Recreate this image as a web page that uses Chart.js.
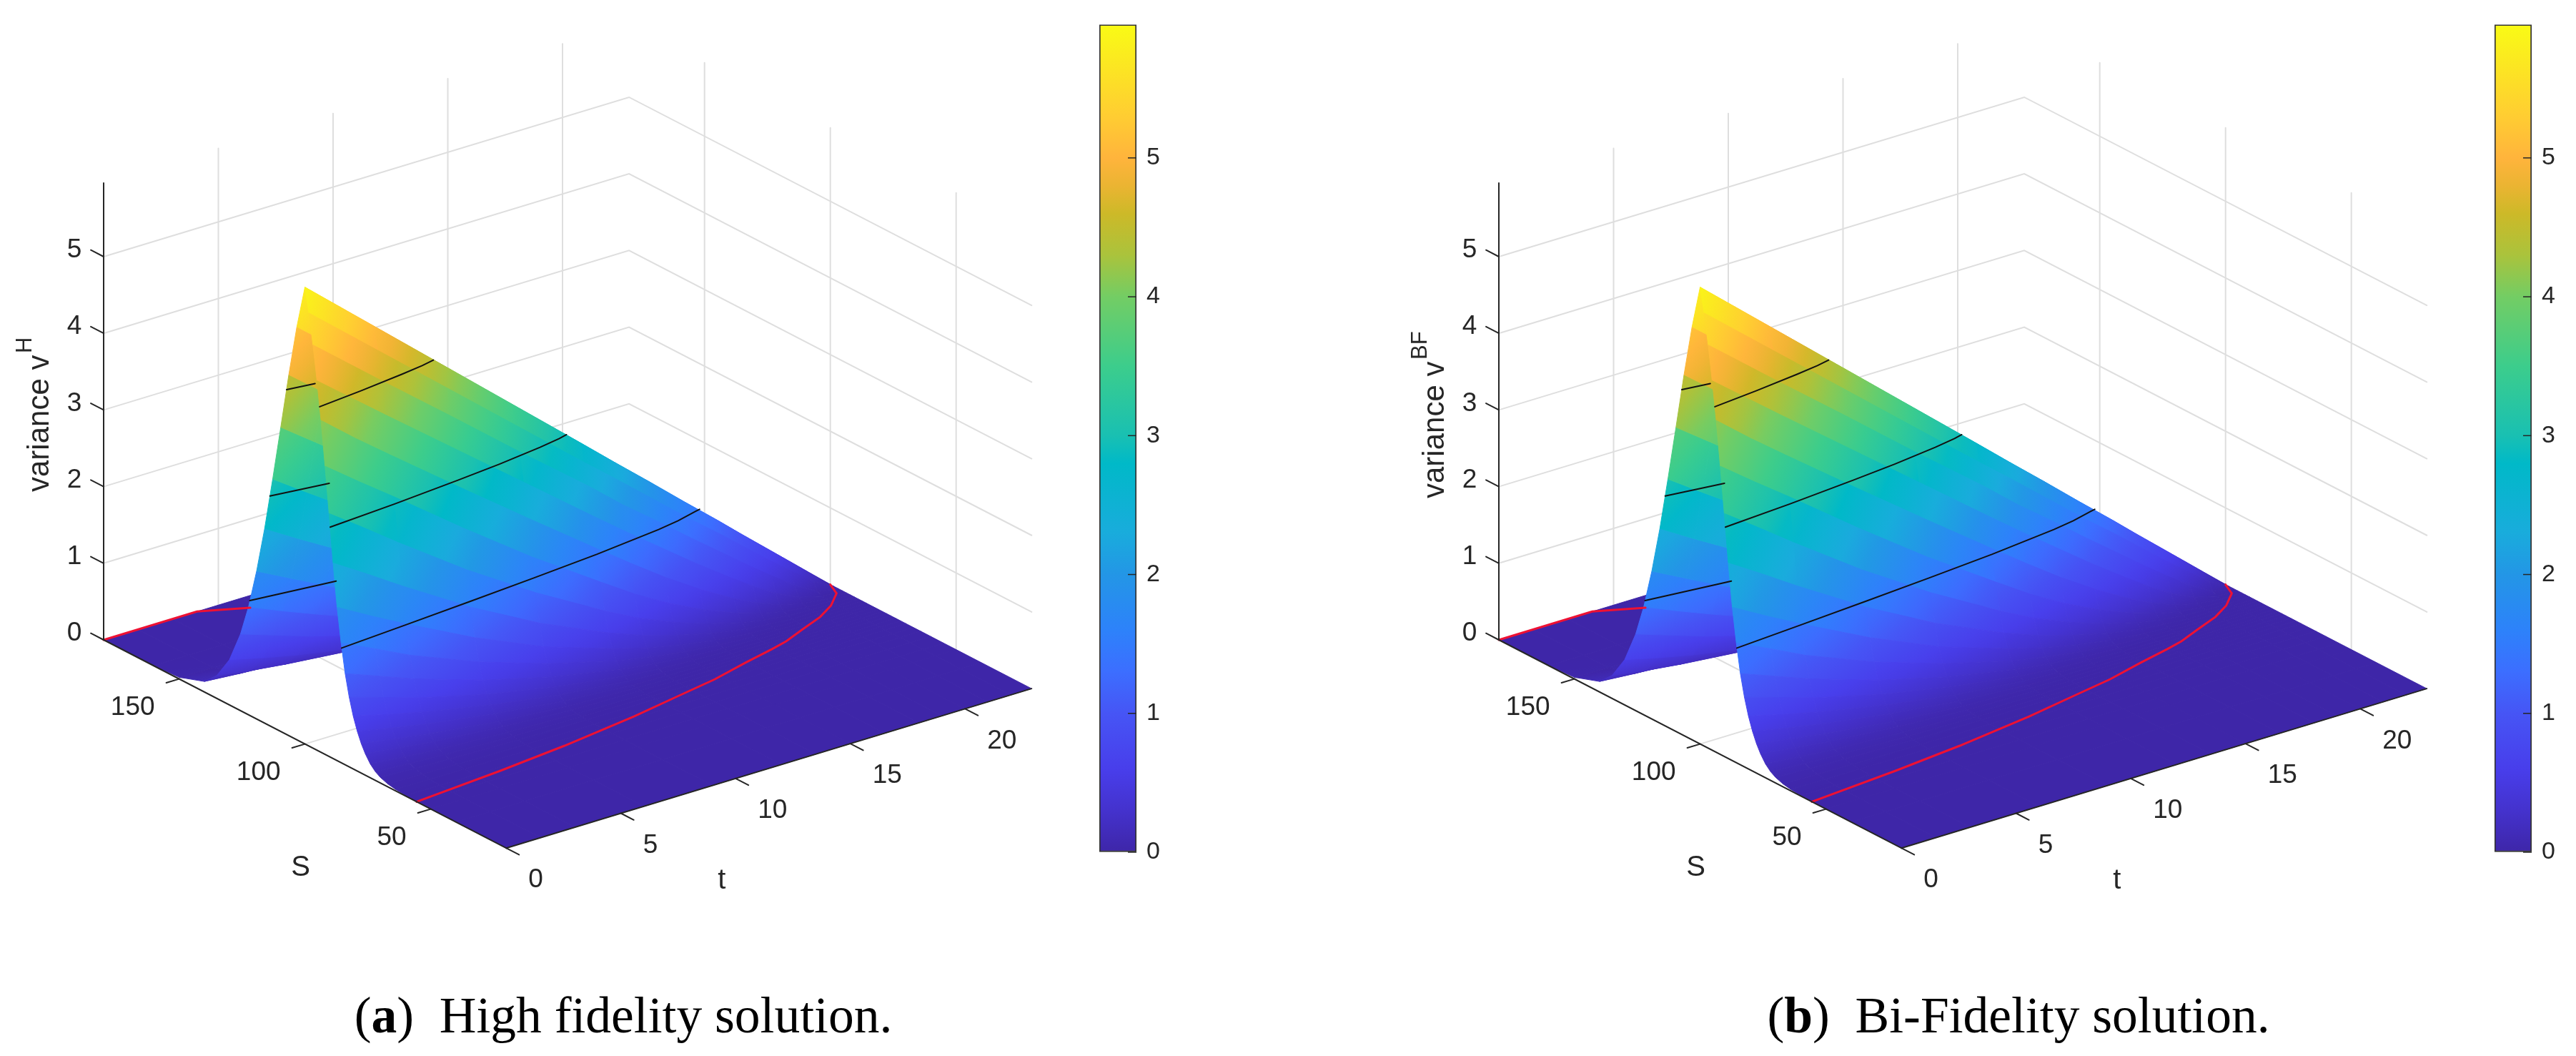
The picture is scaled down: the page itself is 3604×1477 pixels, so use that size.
<!DOCTYPE html>
<html>
<head>
<meta charset="utf-8">
<title>Variance surfaces</title>
<script src="https://cdn.jsdelivr.net/npm/chart.js@4/dist/chart.umd.min.js"></script>
<style>
    html, body { margin: 0; padding: 0; background: #fff; overflow: hidden; }
    #page { position: relative; width: 3604px; height: 1477px; }
    canvas { position: absolute; top: 0; }
    .caption { position: absolute; top: 1378px; font: 71.5px/84px "Liberation Serif", serif; color: #000; white-space: nowrap; transform: translateX(-50%); }
</style>
</head>
<body>
<div id="page">
    <canvas id="surfaceA" width="1530" height="1340" style="left:0"></canvas>
    <canvas id="barA" width="120" height="1240" style="left:1530px"></canvas>
    <canvas id="surfaceB" width="1530" height="1340" style="left:1952px"></canvas>
    <canvas id="barB" width="120" height="1240" style="left:3482px"></canvas>
    <div class="caption" style="left:872px">(<b>a</b>)&nbsp; High fidelity solution.</div>
    <div class="caption" style="left:2824px">(<b>b</b>)&nbsp; Bi-Fidelity solution.</div>
</div>
<script>
    // Values. Both panels look the same by eye so they share one table.
    const sValues = [20, 40, 50, 55, 60, 64, 67, 70, 72, 74, 76, 77.6, 79.2, 80.8, 82.4, 84, 85.6, 87.2, 88.8, 90.4, 92, 93.6, 95.2, 96.8, 98.4, 100, 103.2, 106.4, 109.6, 112.8, 116, 119.2, 122.4, 125.6, 130, 135, 140, 150, 160, 180];
    const tValues = [0, 1.5, 3, 6, 9, 12, 13.5, 15, 16.5, 18, 19, 20, 21, 22, 22.9];
    const varianceRows = [
        [0, 0, 0, .003, .008, .02, .038, .073, .115, .18, .28, .385, .52, .69, .91, 1.19, 1.56, 2.00, 2.55, 3.17, 3.76, 4.33, 4.82, 5.26, 5.65, 5.96, 5.39, 4.71, 3.97, 3.24, 2.54, 1.93, 1.41, 1.00, .59, .30, .137, .022, .003, 0],
        [0, 0, 0, .002, .006, .014, .028, .055, .086, .138, .22, .31, .426, .575, .77, 1.02, 1.35, 1.75, 2.27, 2.85, 3.42, 3.96, 4.46, 4.89, 5.27, 5.57, 5.02, 4.35, 3.64, 2.93, 2.27, 1.70, 1.22, .85, .48, .23, .102, .015, .002, 0],
        [0, 0, 0, .001, .004, .01, .02, .039, .064, .10, .166, .245, .34, .47, .63, .85, 1.13, 1.51, 1.98, 2.52, 3.09, 3.61, 4.10, 4.52, 4.89, 5.18, 4.65, 4.00, 3.31, 2.63, 2.01, 1.47, 1.04, .70, .38, .175, .073, .009, .001, 0],
        [0, 0, 0, 0, .001, .004, .009, .019, .031, .051, .086, .13, .20, .29, .40, .56, .77, 1.06, 1.43, 1.89, 2.41, 2.92, 3.39, 3.79, 4.13, 4.40, 3.90, 3.30, 2.66, 2.05, 1.50, 1.05, .70, .445, .22, .09, .032, .003, 0, 0],
        [0, 0, 0, 0, 0, .001, .003, .007, .012, .021, .037, .059, .093, .148, .225, .33, .475, .67, .95, 1.32, 1.76, 2.24, 2.68, 3.05, 3.37, 3.62, 3.16, 2.61, 2.03, 1.49, 1.03, .68, .42, .243, .106, .036, .011, .001, 0, 0],
        [0, 0, 0, 0, 0, 0, .001, .002, .003, .006, .012, .020, .034, .057, .096, .158, .24, .37, .55, .81, 1.16, 1.57, 1.97, 2.33, 2.61, 2.84, 2.43, 1.93, 1.42, .98, .62, .37, .20, .103, .036, .009, .002, 0, 0, 0],
        [0, 0, 0, 0, 0, 0, 0, 0, .001, .003, .006, .01, .018, .03, .053, .093, .155, .245, .38, .58, .865, 1.24, 1.62, 1.95, 2.24, 2.447, 2.06, 1.59, 1.13, .74, .44, .24, .122, .056, .017, .004, .001, 0, 0, 0],
        [0, 0, 0, 0, 0, 0, 0, 0, 0, .001, .002, .004, .008, .014, .025, .047, .086, .15, .245, .39, .61, .92, 1.28, 1.60, 1.86, 2.06, 1.70, 1.27, .85, .52, .285, .14, .063, .026, .006, .001, 0, 0, 0, 0],
        [0, 0, 0, 0, 0, 0, 0, 0, 0, 0, 0, .001, .003, .005, .01, .02, .038, .075, .134, .231, .387, .63, .94, 1.24, 1.48, 1.666, 1.34, .95, .59, .327, .159, .068, .026, .009, .002, 0, 0, 0, 0, 0],
        [0, 0, 0, 0, 0, 0, 0, 0, 0, 0, 0, 0, 0, .001, .003, .006, .012, .027, .058, .113, .205, .37, .62, .89, 1.12, 1.28, .99, .645, .36, .169, .068, .023, .007, .002, 0, 0, 0, 0, 0, 0],
        [0, 0, 0, 0, 0, 0, 0, 0, 0, 0, 0, 0, 0, 0, .001, .002, .004, .01, .024, .056, .114, .221, .413, .656, .867, 1.015, .75, .45, .222, .088, .029, .008, .002, 0, 0, 0, 0, 0, 0, 0],
        [0, 0, 0, 0, 0, 0, 0, 0, 0, 0, 0, 0, 0, 0, 0, 0, .001, .003, .007, .018, .048, .107, .23, .43, .62, .755, .52, .27, .108, .032, .007, .001, 0, 0, 0, 0, 0, 0, 0, 0],
        [0, 0, 0, 0, 0, 0, 0, 0, 0, 0, 0, 0, 0, 0, 0, 0, 0, 0, .001, .003, .010, .033, .089, .216, .38, .495, .30, .12, .031, .005, .001, 0, 0, 0, 0, 0, 0, 0, 0, 0],
        [0, 0, 0, 0, 0, 0, 0, 0, 0, 0, 0, 0, 0, 0, 0, 0, 0, 0, 0, 0, 0, .002, .011, .045, .146, .234, .098, .017, .001, 0, 0, 0, 0, 0, 0, 0, 0, 0, 0, 0],
        [0, 0, 0, 0, 0, 0, 0, 0, 0, 0, 0, 0, 0, 0, 0, 0, 0, 0, 0, 0, 0, 0, 0, 0, 0, 0, 0, 0, 0, 0, 0, 0, 0, 0, 0, 0, 0, 0, 0, 0]
    ];

    // Contour lines, as S and t pairs at a fixed level. Only the parts that can be seen.
    const level15S = [85.4, 87.2, 89.1, 91.1, 93.3, 96.2, 97.6, 99.6, 100];
    const level15T = [0, 3, 6, 9, 12, 15, 16, 17, 17.2];
    const level30S = [89.95, 91.7, 93.9, 95.6, 97.75, 99.2, 100];
    const level30T = [0, 3, 6, 8, 10, 11, 11.4];
    const level45S = [94.15, 95.8, 97.8, 99, 100];
    const level45T = [0, 2, 4, 5, 5.6];
    const rear15S = [121.9, 119, 118.6];
    const rear15T = [0, 3, 3.4];
    const rear30S = [113.9, 111.3];
    const rear30T = [0, 2.3];
    const rear45S = [107.3, 106];
    const rear45T = [0, 1.1];
    const redS = [55.6, 58.3, 61, 65, 68.3, 71.1, 74.6, 77.3, 79, 82.4, 85.8, 89.7, 94.8, 100];
    const redT = [0, 3.95, 7.04, 10.5, 12.76, 14.7, 16.4, 17.87, 18.67, 19.77, 20.9, 21.8, 22.6, 22.9];
    const rearRedS = [180, 180, 174];
    const rearRedT = [0, 4.07, 5.73];

    const sTicks = [50, 100, 150];
    const tTicks = [0, 5, 10, 15, 20];
    const vTicks = [0, 1, 2, 3, 4, 5];

    const sMin = 20, sMax = 180, tMax = 22.9, vMax = 5.96;

    // Colormap as seen on the colorbar
    const colorValues = [0, .3, .6, 1, 1.3, 1.6, 2, 2.3, 2.8, 3, 3.5, 4, 4.3, 4.6, 4.8, 5, 5.3, 5.96];
    const colorRed = [62, 68, 72, 70, 60, 45, 35, 25, 0, 25, 60, 115, 170, 205, 235, 255, 255, 249];
    const colorGreen = [38, 50, 62, 85, 110, 130, 150, 172, 185, 192, 205, 205, 195, 185, 180, 180, 205, 251];
    const colorBlue = [168, 205, 235, 245, 255, 250, 230, 220, 200, 178, 140, 100, 60, 40, 50, 60, 50, 21];

    const textColor = '#262626';
    const gridColor = '#dedede';

    function colorFor(v) {
        let k = 0;
        while (k < colorValues.length - 2 && v > colorValues[k + 1]) k++;
        const f = Math.min(1, Math.max(0, (v - colorValues[k]) / (colorValues[k + 1] - colorValues[k])));
        const mix = (arr) => Math.round(arr[k] + (arr[k + 1] - arr[k]) * f);
        return `rgb(${mix(colorRed)},${mix(colorGreen)},${mix(colorBlue)})`;
    }

    // Fixed orthographic view, same as the figure's 3D camera
    function project(s, t, v) {
        return {
            x: 145 + (sMax - s) * 3.52 + t * 32.1,
            y: 895 + (sMax - s) * 1.82 - t * 9.74 - v * 107.2
        };
    }

    function lineSet(points, color, width) {
        return {
            data: points, showLine: true, fill: false, pointRadius: 0,
            borderColor: color, borderWidth: width, tension: 0, borderCapStyle: 'round'
        };
    }

    function contourSet(sList, tList, level, color, width) {
        return lineSet(sList.map((s, k) => project(s, tList[k], level)), color, width);
    }

    // Colour plane over one cell. The stripes between S strips are strong up high and nearly gone low down.
    function stripFill(context, i, j) {
        const chart = context.chart;
        const vA = varianceRows[i][j], vB = varianceRows[i][j + 1];
        const vC = varianceRows[i + 1][j], vD = varianceRows[i + 1][j + 1];
        const meanRow0 = (vA + vB) / 2, meanRow1 = (vC + vD) / 2;
        if (!chart.chartArea || (vA === vB && vC === vD && vA === vC)) return colorFor(meanRow0);

        const smooth = 0.9 - 0.55 * Math.min(1, meanRow0 / 2);
        const fA = meanRow0 + smooth * (vA - meanRow0);
        const fB = meanRow0 + smooth * (vB - meanRow0);
        const fC = meanRow1 + smooth * (vC - meanRow1);

        const px = (p) => ({ x: chart.scales.x.getPixelForValue(p.x), y: chart.scales.y.getPixelForValue(p.y) });
        const a = px(project(sValues[j], tValues[i], vA));
        const b = px(project(sValues[j + 1], tValues[i], vB));
        const c = px(project(sValues[j], tValues[i + 1], vC));
        const d = px(project(sValues[j + 1], tValues[i + 1], vD));

        const det = (b.x - a.x) * (c.y - a.y) - (c.x - a.x) * (b.y - a.y);
        if (Math.abs(det) < 40) return colorFor((meanRow0 + meanRow1) / 2);
        const gx = ((fB - fA) * (c.y - a.y) - (fC - fA) * (b.y - a.y)) / det;
        const gy = ((b.x - a.x) * (fC - fA) - (c.x - a.x) * (fB - fA)) / det;
        const gg = gx * gx + gy * gy;
        if (gg < 1e-12) return colorFor(fA);

        const fD = fA + gx * (d.x - a.x) + gy * (d.y - a.y);
        const low = Math.max(0, Math.min(fA, fB, fC, fD));
        const high = Math.min(vMax, Math.max(fA, fB, fC, fD));
        const gradient = chart.ctx.createLinearGradient(
            a.x + gx * (low - fA) / gg, a.y + gy * (low - fA) / gg,
            a.x + gx * (high - fA) / gg, a.y + gy * (high - fA) / gg
        );
        for (let k = 0; k <= 4; k++) {
            gradient.addColorStop(k / 4, colorFor(low + (high - low) * k / 4));
        }
        return gradient;
    }

    function buildDatasets() {
        const drawOrder = [];
        const gridOf = (points) => drawOrder.push(lineSet(points, gridColor, 2));

        // Back walls and floor grid
        vTicks.slice(1).forEach(v => gridOf([project(sMax, 0, v), project(sMax, tMax, v), project(sMin, tMax, v)]));
        tTicks.slice(1).forEach(t => {
            gridOf([project(sMin, t, 0), project(sMax, t, 0), project(sMax, t, vMax)]);
        });
        sTicks.forEach(s => {
            gridOf([project(s, 0, 0), project(s, tMax, 0), project(s, tMax, vMax)]);
        });

        // Surface, far cells first
        for (let i = tValues.length - 2; i >= 0; i--) {
            for (let j = sValues.length - 2; j >= 0; j--) {
                const corners = [
                    project(sValues[j], tValues[i], varianceRows[i][j]),
                    project(sValues[j + 1], tValues[i], varianceRows[i][j + 1]),
                    project(sValues[j + 1], tValues[i + 1], varianceRows[i + 1][j + 1]),
                    project(sValues[j], tValues[i + 1], varianceRows[i + 1][j]),
                    project(sValues[j], tValues[i], varianceRows[i][j])
                ];
                const paint = (context) => stripFill(context, i, j);
                drawOrder.push({
                    data: corners, showLine: true, fill: 'shape', pointRadius: 0, tension: 0,
                    borderWidth: 1, backgroundColor: paint, borderColor: paint
                });
            }
        }

        // Contours on top of the surface
        drawOrder.push(contourSet(level15S, level15T, 1.5, '#111', 2));
        drawOrder.push(contourSet(level30S, level30T, 3, '#111', 2));
        drawOrder.push(contourSet(level45S, level45T, 4.5, '#111', 2));
        drawOrder.push(contourSet(rear15S, rear15T, 1.5, '#111', 2));
        drawOrder.push(contourSet(rear30S, rear30T, 3, '#111', 2));
        drawOrder.push(contourSet(rear45S, rear45T, 4.5, '#111', 2));
        drawOrder.push(contourSet(redS, redT, 0, '#ee1133', 3));
        drawOrder.push(contourSet(rearRedS, rearRedT, 0, '#ee1133', 3));

        // Axis lines and tick marks
        const axisOf = (points) => drawOrder.push(lineSet(points, textColor, 2));
        axisOf([project(sMax, 0, 0), project(sMax, 0, vMax)]);
        axisOf([project(sMax, 0, 0), project(sMin, 0, 0)]);
        axisOf([project(sMin, 0, 0), project(sMin, tMax, 0)]);
        vTicks.forEach(v => axisOf([project(sMax, 0, v), project(sMax + 5.1, 0, v)]));
        sTicks.forEach(s => axisOf([project(s, 0, 0), project(s, -0.56, 0)]));
        tTicks.forEach(t => axisOf([project(sMin, t, 0), project(sMin - 5.1, t, 0)]));

        // Chart.js paints dataset 0 last
        return drawOrder.reverse();
    }

    function axisText(titleStart, superscript) {
        return {
            id: 'axisText',
            afterDatasetsDraw(chart) {
                const { ctx, scales } = chart;
                const at = (p) => ({ x: scales.x.getPixelForValue(p.x), y: scales.y.getPixelForValue(p.y) });
                ctx.save();
                ctx.fillStyle = textColor;
                ctx.textBaseline = 'middle';
                ctx.font = '37px "Liberation Sans"';

                ctx.textAlign = 'center';
                vTicks.forEach(v => {
                    const p = at(project(sMax, 0, v));
                    ctx.fillText(String(v), p.x - 41, p.y - 9);
                });
                ctx.textAlign = 'right';
                sTicks.forEach(s => {
                    const p = at(project(s, 0, 0));
                    ctx.fillText(String(s), p.x - 34, p.y + 40);
                });
                ctx.textAlign = 'left';
                tTicks.forEach(t => {
                    const p = at(project(sMin, t, 0));
                    ctx.fillText(String(t), p.x + 31, p.y + 45);
                });

                // Axis titles
                ctx.font = '40px "Liberation Sans"';
                ctx.textAlign = 'center';
                const sMid = at(project(100, 0, 0));
                ctx.fillText('S', sMid.x - 6, sMid.y + 173);
                const tMid = at(project(sMin, tMax / 2, 0));
                ctx.fillText('t', tMid.x - 66, tMid.y + 157);

                ctx.translate(56, titleStart);
                ctx.rotate(-Math.PI / 2);
                ctx.textAlign = 'left';
                ctx.font = '42px "Liberation Sans"';
                ctx.fillText('variance v', 0, 0);
                ctx.font = '31px "Liberation Sans"';
                ctx.fillText(superscript, 194, -21);
                ctx.restore();
            }
        };
    }

    function drawSurface(canvasId, titleStart, superscript) {
        new Chart(document.getElementById(canvasId), {
            type: 'scatter',
            data: { datasets: buildDatasets() },
            options: {
                responsive: false,
                animation: false,
                events: [],
                layout: { padding: 0 },
                plugins: { legend: { display: false }, tooltip: { enabled: false } },
                scales: {
                    x: { type: 'linear', display: false, min: 0, max: 1530 },
                    y: { type: 'linear', display: false, min: 0, max: 1340, reverse: true }
                }
            },
            plugins: [axisText(titleStart, superscript)]
        });
    }

    // Short tick marks inside the colorbar
    const innerTicks = {
        id: 'innerTicks',
        afterDatasetsDraw(chart) {
            const { ctx, chartArea, scales } = chart;
            ctx.save();
            ctx.strokeStyle = textColor;
            ctx.lineWidth = 1.5;
            vTicks.forEach(v => {
                const y = scales.y.getPixelForValue(v);
                ctx.beginPath();
                ctx.moveTo(chartArea.right - 12, y);
                ctx.lineTo(chartArea.right, y);
                ctx.stroke();
            });
            ctx.restore();
        }
    };

    function drawColorbar(canvasId) {
        new Chart(document.getElementById(canvasId), {
            type: 'bar',
            data: {
                labels: ['variance'],
                datasets: [{
                    data: [[0, vMax]],
                    barPercentage: 1,
                    categoryPercentage: 1,
                    borderWidth: 2,
                    borderSkipped: false,
                    borderColor: '#333',
                    backgroundColor: (context) => {
                        const area = context.chart.chartArea;
                        if (!area) return colorFor(0);
                        const gradient = context.chart.ctx.createLinearGradient(0, area.bottom, 0, area.top);
                        colorValues.forEach(v => gradient.addColorStop(v / vMax, colorFor(v)));
                        return gradient;
                    }
                }]
            },
            options: {
                responsive: false,
                animation: false,
                events: [],
                layout: { padding: { left: 8, top: 32, bottom: 48, right: 0 } },
                plugins: { legend: { display: false }, tooltip: { enabled: false } },
                scales: {
                    x: { display: false },
                    y: {
                        position: 'right',
                        min: 0,
                        max: vMax,
                        afterFit(scale) { scale.width = 60; },
                        border: { display: false },
                        grid: { drawOnChartArea: false, drawTicks: false },
                        ticks: {
                            stepSize: 1,
                            includeBounds: false,
                            padding: 14,
                            color: textColor,
                            font: { family: 'Liberation Sans', size: 34 }
                        }
                    }
                }
            },
            plugins: [innerTicks]
        });
    }

    drawSurface('surfaceA', 688, 'H');
    drawSurface('surfaceB', 697, 'BF');
    drawColorbar('barA');
    drawColorbar('barB');
</script>
</body>
</html>
